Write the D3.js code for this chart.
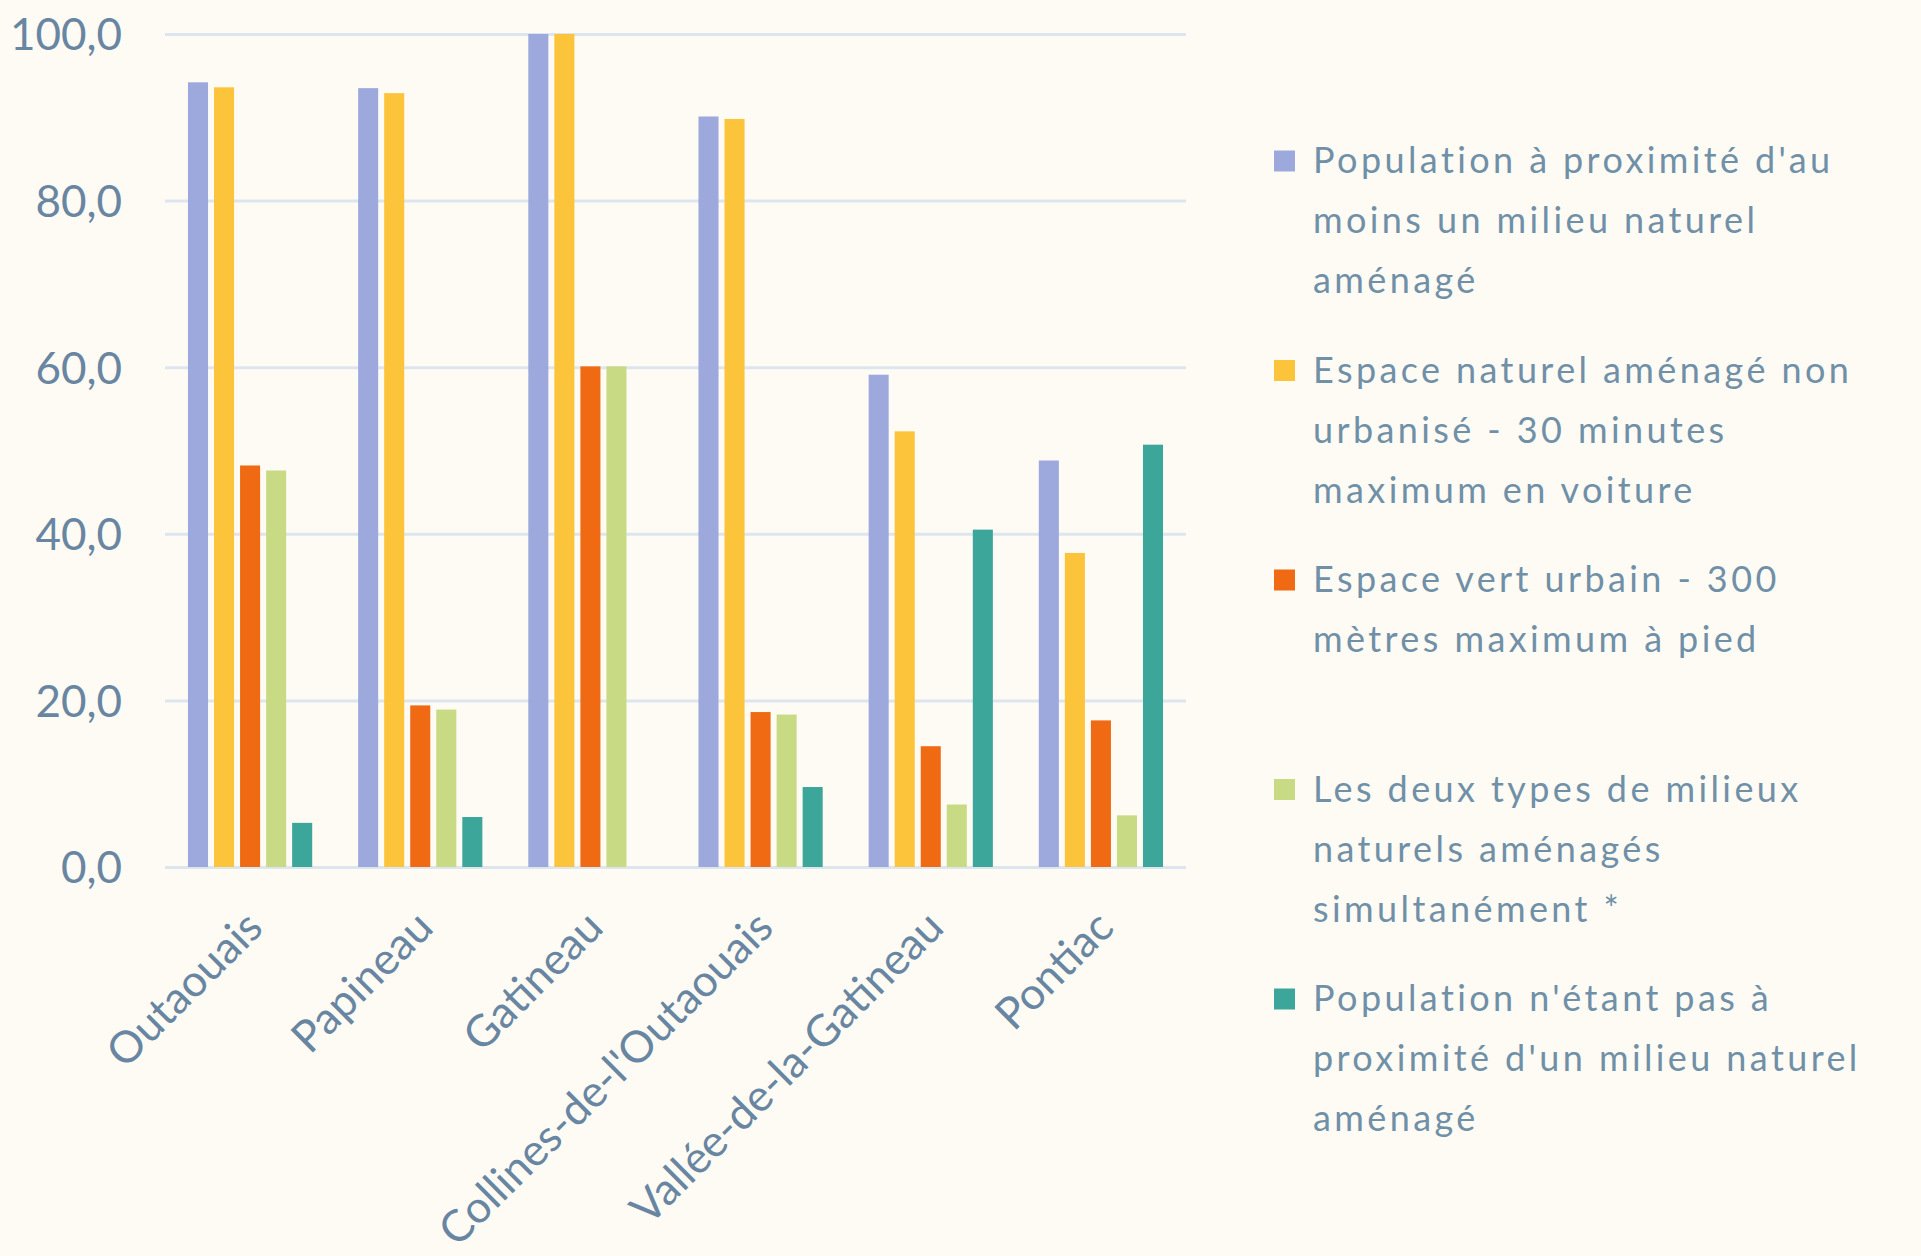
<!DOCTYPE html>
<html>
<head>
<meta charset="utf-8">
<script src="https://cdn.jsdelivr.net/npm/d3@7"></script>
<style>
  html, body { margin: 0; padding: 0; background: #FEFBF4; }
  svg { display: block; }
  text { font-family: Lato, "Open Sans", sans-serif; }
</style>
</head>
<body>
<svg id="chart" width="1921" height="1256"></svg>
<script>
const categories = ["Outaouais", "Papineau", "Gatineau", "Collines-de-l'Outaouais", "Vallée-de-la-Gatineau", "Pontiac"];
const seriesNames = [
  "Population à proximité d'au moins un milieu naturel aménagé",
  "Espace naturel aménagé non urbanisé - 30 minutes maximum en voiture",
  "Espace vert urbain - 300 mètres maximum à pied",
  "Les deux types de milieux naturels aménagés simultanément *",
  "Population n'étant pas à proximité d'un milieu naturel aménagé"
];
const legendLines = [
  ["Population à proximité d'au", "moins un milieu naturel", "aménagé"],
  ["Espace naturel aménagé non", "urbanisé - 30 minutes", "maximum en voiture"],
  ["Espace vert urbain - 300", "mètres maximum à pied"],
  ["Les deux types de milieux", "naturels aménagés", "simultanément *"],
  ["Population n'étant pas à", "proximité d'un milieu naturel", "aménagé"]
];
const seriesColors = ["#9DA9DD", "#FBC43A", "#EF6A12", "#C9DA85", "#3CA69B"];
const proximite   = [94.2, 93.5, 100.0, 90.1, 59.1, 48.8];
const naturel30   = [93.6, 92.9, 100.0, 89.8, 52.3, 37.7];
const urbain300   = [48.2, 19.4, 60.1, 18.6, 14.5, 17.6];
const deuxTypes   = [47.6, 18.9, 60.1, 18.3, 7.5, 6.2];
const nonProx     = [5.3, 6.0, 0.0, 9.6, 40.5, 50.7];
const yTicks = [0, 20, 40, 60, 80, 100];

const seriesValues = [proximite, naturel30, urbain300, deuxTypes, nonProx];

const svg = d3.select("#chart");
const W = 1921, H = 1256;
svg.append("rect").attr("width", W).attr("height", H).attr("fill", "#FEFBF4");

const plot = { left: 165, right: 1186, top: 34, bottom: 867 };

const x0 = d3.scaleBand().domain(categories).range([plot.left, plot.right])
  .paddingInner(0.27).paddingOuter(0.135);
const x1 = d3.scaleBand().domain(d3.range(seriesNames.length)).range([0, x0.bandwidth()])
  .paddingInner(0.23).paddingOuter(0);
const y = d3.scaleLinear().domain([0, 100]).range([plot.bottom, plot.top]);

const textColor = "#6886A2";

// gridlines
const yAxis = d3.axisLeft(y).tickValues(yTicks)
  .tickSize(-(plot.right - plot.left))
  .tickFormat(d => d3.format(".1f")(d).replace(".", ","));
const gy = svg.append("g").attr("transform", `translate(${plot.left},0)`).call(yAxis);
gy.select(".domain").remove();
gy.selectAll(".tick line").attr("stroke", "#DDE6EF").attr("stroke-width", 3);
gy.selectAll(".tick text")
  .attr("x", -43).attr("dy", "0.36em")
  .attr("fill", textColor).attr("font-size", 44).attr("font-weight", 400).attr("font-family", "Lato");

// bars
const groups = svg.append("g").selectAll("g").data(categories).join("g")
  .attr("transform", d => `translate(${x0(d)},0)`);
groups.selectAll("rect")
  .data((c, ci) => seriesValues.map((vals, si) => ({ si, v: vals[ci] })))
  .join("rect")
  .attr("x", d => x1(d.si))
  .attr("width", x1.bandwidth())
  .attr("y", d => y(d.v))
  .attr("height", d => y(0) - y(d.v))
  .attr("fill", d => seriesColors[d.si]);

// x axis labels
const xAxis = d3.axisBottom(x0).tickSize(0);
const gx = svg.append("g").attr("transform", `translate(0,${plot.bottom})`).call(xAxis);
gx.select(".domain").remove();
gx.selectAll(".tick text")
  .attr("fill", textColor).attr("font-size", 44).attr("font-weight", 400).attr("font-family", "Lato")
  .attr("text-anchor", "end")
  .attr("dy", null).attr("y", null)
  .attr("transform", "translate(15,63) rotate(-45)");

// legend
const legend = svg.append("g");
const slot = 209.5, lineH = 60, legX = 1274, legY = 160.5;
seriesNames.forEach((name, i) => {
  const g = legend.append("g").attr("transform", `translate(${legX},${legY + i * slot})`);
  g.append("rect").attr("x", 0).attr("y", -10).attr("width", 21).attr("height", 21)
    .attr("fill", seriesColors[i]);
  g.selectAll("text").data(legendLines[i]).join("text")
    .attr("x", 39).attr("y", (d, j) => j * lineH)
    .attr("dy", "0.36em")
    .attr("fill", "#7090A8").attr("font-size", 36).attr("font-weight", 400)
    .attr("letter-spacing", 3.4).attr("font-family", "Lato")
    .text(d => d);
});
</script>
</body>
</html>
